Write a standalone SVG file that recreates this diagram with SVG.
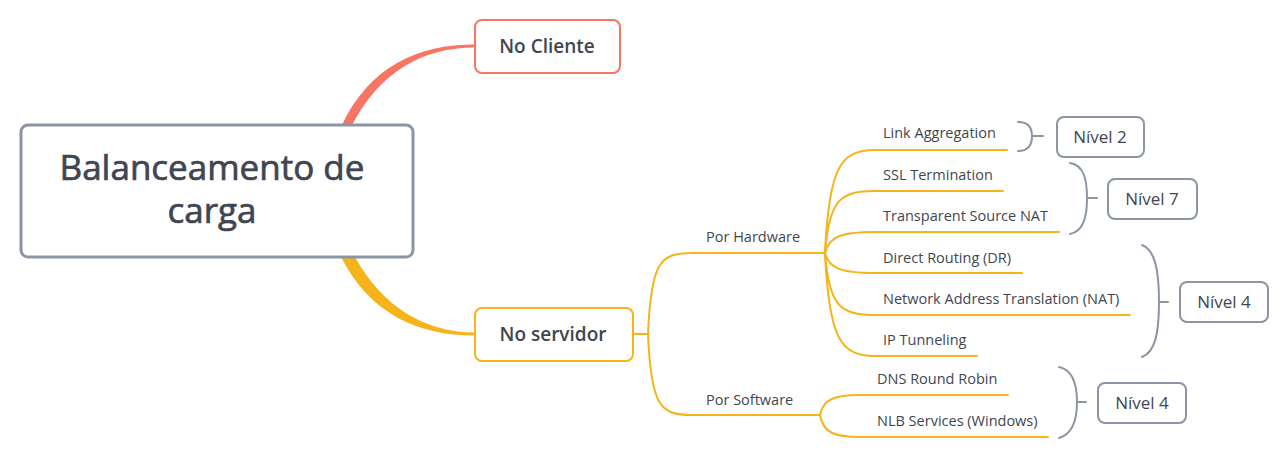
<svg xmlns="http://www.w3.org/2000/svg" width="1287" height="458" viewBox="0 0 1287 458">
<style>
text{font-family:"Open Sans","Noto Sans","Liberation Sans",sans-serif;fill:#3f4652}
.main{font-size:35px;text-anchor:middle;stroke:#3f4652;stroke-width:0.7}
.sub{font-size:19px;font-weight:600;text-anchor:middle}
.leaf{font-size:14.5px}
.lvl{font-size:17px;text-anchor:middle}
.ob{fill:none;stroke:#F6B31A;stroke-width:2;stroke-linecap:round}
.br{fill:none;stroke:#8C95A6;stroke-width:2;stroke-linecap:round}
.gbox{fill:#fff;stroke:#8C95A6;stroke-width:2}
</style>
<rect width="1287" height="458" fill="#fff"/>
<g id="connectors">
<path d="M342,125 C370,66 418,44.5 475,44.5 L475,47.5 C422,47.5 380,72 352,125 Z" fill="#F87463"/>
<path d="M341,257 C370,314 418,335.5 475,335.5 L475,332.5 C424,332.5 382,306 355,257 Z" fill="#F6B31A"/>
<path class="ob" d="M633,334 L648,334"/>
<path class="ob" d="M648,334 C651,262 660,253 692,253 L825,253"/>
<path class="ob" d="M648,334 C651,406 660,415 692,415 L820,415"/>
<path class="ob" d="M825,253 C829,168 840,150 875,150 L1007,150"/>
<path class="ob" d="M825,253 C829,200 840,191 875,191 L1003,191"/>
<path class="ob" d="M825,253 C829,237 840,232 875,232 L1059,232"/>
<path class="ob" d="M825,253 C829,268 840,273 875,273 L1022,273"/>
<path class="ob" d="M825,253 C829,306 840,315 875,315 L1130,315"/>
<path class="ob" d="M825,253 C829,338 840,356 875,356 L977,356"/>
<path class="ob" d="M820,415 C823,399 835,395 860,395 L1008,395"/>
<path class="ob" d="M820,415 C823,433 835,437 860,437 L1048,437"/>
<path class="br" d="M1018,122 Q1032,122 1032,136 Q1032,151 1018,151 M1032,136 L1043,136"/>
<path class="br" d="M1070,163 C1084,165 1087,180 1087,198 C1087,216 1084,231 1070,234 M1087,198 L1097,198"/>
<path class="br" d="M1142,245 C1155,250 1159,270 1159,302 C1159,334 1155,352 1142,357 M1159,302 L1168,302"/>
<path class="br" d="M1059,367 C1073,370 1077,384 1077,402 C1077,420 1073,434 1059,438 M1077,402 L1086,402"/>
</g>
<g id="root">
<rect x="21" y="125" width="392" height="132" rx="7" fill="#fff" stroke="#8C95A6" stroke-width="3"/>
<text class="main" x="212" y="180">Balanceamento de</text>
<text class="main" x="212" y="223">carga</text>
</g>
<g id="no-cliente">
<rect x="475" y="20" width="145" height="53" rx="7" fill="#fff" stroke="#F87463" stroke-width="2"/>
<text class="sub" x="547" y="53">No Cliente</text>
</g>
<g id="no-servidor">
<rect x="475" y="308" width="158" height="53" rx="7" fill="#fff" stroke="#F6B31A" stroke-width="2"/>
<text class="sub" x="553" y="341">No servidor</text>
</g>
<g id="por-hardware"><text class="leaf" x="706" y="242">Por Hardware</text></g>
<g id="por-software"><text class="leaf" x="706" y="405">Por Software</text></g>
<g id="link-aggregation"><text class="leaf" x="883" y="138">Link Aggregation</text></g>
<g id="ssl-termination"><text class="leaf" x="883" y="180">SSL Termination</text></g>
<g id="transparent-source-nat"><text class="leaf" x="883" y="221">Transparent Source NAT</text></g>
<g id="direct-routing"><text class="leaf" x="883" y="263">Direct Routing (DR)</text></g>
<g id="nat"><text class="leaf" x="883" y="304">Network Address Translation (NAT)</text></g>
<g id="ip-tunneling"><text class="leaf" x="883" y="345">IP Tunneling</text></g>
<g id="dns-round-robin"><text class="leaf" x="877" y="384">DNS Round Robin</text></g>
<g id="nlb-services"><text class="leaf" x="877" y="426">NLB Services (Windows)</text></g>
<g id="nivel-2">
<rect class="gbox" x="1057" y="117" width="87" height="40" rx="7"/>
<text class="lvl" x="1100" y="143">Nível 2</text>
</g>
<g id="nivel-7">
<rect class="gbox" x="1108" y="179" width="89" height="40" rx="7"/>
<text class="lvl" x="1152" y="205">Nível 7</text>
</g>
<g id="nivel-4-hw">
<rect class="gbox" x="1180" y="282" width="88" height="40" rx="7"/>
<text class="lvl" x="1224" y="308">Nível 4</text>
</g>
<g id="nivel-4-sw">
<rect class="gbox" x="1098" y="383" width="88" height="40" rx="7"/>
<text class="lvl" x="1142" y="409">Nível 4</text>
</g>
</svg>
